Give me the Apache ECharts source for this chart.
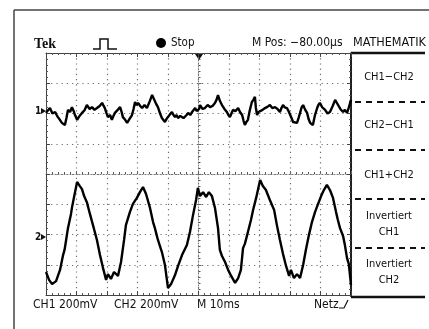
<!DOCTYPE html>
<html>
<head>
<meta charset="utf-8">
<script src="https://cdn.jsdelivr.net/npm/echarts@6/dist/echarts.min.js"></script>
<style>
  html, body { margin: 0; padding: 0; background: #fff; }
  #chart { width: 429px; height: 329px; }
</style>
</head>
<body>
<div id="chart"></div>
<script>
// time in ms relative to trigger (10 ms/div), amplitude in divisions (200 mV/div)
const CH1 = [
  [-50, 2.02], [-49.4, 2.1], [-48.7, 2.18], [-47.9, 2.0], [-47, 2.05], [-46.5, 1.95], [-46.1, 1.88],
  [-45.5, 1.8], [-44.8, 1.69], [-44.3, 1.72], [-43.8, 1.62], [-43.3, 1.85], [-42.8, 2.12], [-42.1, 2.05],
  [-41.5, 2.21], [-41, 2.1], [-40.5, 1.95], [-40.1, 1.9], [-39.8, 1.79], [-39, 1.92], [-38.2, 2.02],
  [-37.4, 2.1], [-36.6, 2.28], [-35.7, 2.15], [-34.9, 2.21], [-34.1, 2.12], [-33.3, 2.18], [-32.4, 2.25],
  [-31.6, 2.35], [-31.1, 2.25], [-30.7, 2.18], [-30.2, 2.02], [-29.7, 1.88], [-29, 1.95], [-28.4, 1.79],
  [-27.9, 1.92], [-27.4, 2.02], [-26.5, 2.12], [-25.7, 2.21], [-25.2, 2.05], [-24.8, 1.88], [-24.1, 1.8],
  [-23.4, 1.69], [-22.6, 1.82], [-21.8, 1.95], [-21.3, 2.15], [-20.8, 2.38], [-20.3, 2.28], [-19.8, 2.35],
  [-19.1, 2.25], [-18.5, 2.18], [-17.7, 2.28], [-16.9, 2.18], [-16, 2.4], [-15.2, 2.61], [-14.7, 2.5],
  [-14.3, 2.45], [-13.8, 2.3], [-13.3, 2.21], [-12.6, 2.0], [-12, 1.85], [-11.5, 1.8], [-11, 1.72],
  [-10.5, 1.82], [-10, 1.88], [-9.3, 1.98], [-8.7, 2.05], [-8.2, 1.95], [-7.7, 1.88], [-7.2, 1.95],
  [-6.7, 1.85], [-6, 1.92], [-5.4, 1.95], [-4.9, 1.85], [-4.4, 1.88], [-3.9, 1.95], [-3.4, 2.02],
  [-2.7, 1.95], [-2.1, 2.05], [-1.6, 2.1], [-1.1, 2.18], [-0.6, 2.08], [-0.2, 2.02], [0.2, 2.15],
  [0.5, 2.28], [1.3, 2.15], [2.1, 2.18], [3, 2.28], [3.8, 2.21], [4.6, 2.25], [5.4, 2.35], [5.9, 2.45],
  [6.4, 2.61], [7, 2.42], [7.7, 2.28], [8.5, 2.15], [9.3, 2.05], [9.8, 1.95], [10.3, 1.88], [10.8, 2.0],
  [11.3, 2.12], [12.1, 2.08], [13, 2.18], [13.6, 2.05], [14.3, 1.95], [14.8, 1.75], [15.2, 1.62],
  [15.7, 1.72], [16.2, 1.79], [16.8, 2.1], [17.5, 2.38], [18, 2.45], [18.5, 2.55], [18.8, 2.2],
  [19.2, 1.95], [19.7, 2.05], [20.2, 2.02], [21, 2.12], [21.8, 2.18], [22.6, 2.22], [23.4, 2.28],
  [24.2, 2.18], [25.1, 2.21], [25.9, 2.15], [26.7, 2.05], [27.2, 2.18], [27.7, 2.28], [28.3, 2.2],
  [29, 2.18], [29.5, 2.08], [30, 2.02], [30.5, 1.85], [31, 1.72], [31.6, 1.78], [32.3, 1.69], [32.8, 1.85],
  [33.3, 2.02], [33.8, 2.2], [34.3, 2.28], [35, 2.12], [35.6, 2.02], [36.1, 1.82], [36.6, 1.69],
  [37, 1.72], [37.5, 1.62], [38.2, 1.95], [38.9, 2.18], [39.3, 2.28], [39.8, 2.35], [40.6, 2.2],
  [41.5, 2.12], [42.3, 2.0], [43.1, 2.05], [44, 2.25], [44.8, 2.45], [45.2, 2.38], [45.7, 2.35],
  [46.5, 2.15], [47.4, 2.05], [48, 2.12], [48.7, 2.02], [49.3, 2.2], [50, 2.45],
];
const CH2 = [
  [-50, -3.24], [-49, -3.5], [-48, -3.64], [-46.7, -3.54], [-45.4, -3.17], [-44.4, -2.68], [-43.9, -2.5],
  [-43.4, -2.18], [-42.8, -1.79], [-41.8, -1.32], [-41.5, -1.12], [-40.8, -0.76], [-39.8, -0.26],
  [-38.9, -0.4], [-38.2, -0.5], [-37.5, -0.73], [-36.6, -0.93], [-35.6, -1.32], [-34.6, -1.69],
  [-33.3, -2.18], [-32.3, -2.68], [-31.3, -3.11], [-30.3, -3.5], [-29.7, -3.31], [-28.7, -3.47],
  [-27.7, -3.24], [-26.4, -3.37], [-25.4, -2.91], [-24.4, -2.18], [-23.8, -1.69], [-22.5, -1.26],
  [-21.5, -0.99], [-20.2, -0.79], [-19.2, -0.6], [-18.2, -0.43], [-17.2, -0.66], [-15.9, -1.12],
  [-14.9, -1.59], [-14.3, -1.79], [-13.3, -2.18], [-12, -2.58], [-11, -3.01], [-10, -3.77], [-9, -3.64],
  [-7.7, -3.34], [-6.7, -3.04], [-5.4, -2.68], [-3.8, -2.35], [-2.8, -1.92], [-1.8, -1.36], [-0.8, -0.86],
  [-0.2, -0.46], [0.5, -0.73], [1.5, -0.6], [2.5, -0.76], [3.4, -0.6], [4.4, -0.73], [5.4, -1.12],
  [6.4, -1.79], [7, -2.51], [7.7, -2.71], [8.7, -2.91], [9.7, -3.17], [10.7, -3.37], [12, -3.6],
  [13, -3.44], [13.9, -3.17], [14.6, -2.45], [15.2, -2.31], [16.2, -1.92], [17.2, -1.52], [17.9, -1.19],
  [18.9, -0.79], [20.2, -0.2], [21.1, -0.4], [22.1, -0.53], [23.4, -0.86], [24.8, -1.19], [25.7, -1.69],
  [26.7, -2.18], [27.7, -2.64], [28.7, -3.04], [29.7, -3.37], [30.3, -3.17], [31.3, -3.44], [32.3, -3.31],
  [33.3, -3.44], [34.3, -3.01], [35.2, -2.51], [36.2, -2.02], [37.2, -1.59], [38.2, -1.26], [39.2, -0.99],
  [40.2, -0.73], [41.1, -0.53], [42.1, -0.36], [43.1, -0.53], [44.1, -0.79], [45.1, -1.26], [45.7, -1.52],
  [46.4, -1.79], [47.4, -2.05], [48, -2.35], [48.7, -2.78], [49.3, -2.98], [50, -3.67],
];
const MENU = ['CH1−CH2', 'CH2−CH1', 'CH1+CH2', 'Invertiert\nCH1', 'Invertiert\nCH2'];
const FOOTER = ['CH1 200mV', 'CH2 200mV', 'M 10ms', 'Netz'];

const INK = '#111';
const FONT = '"Liberation Sans Narrow", "DejaVu Sans Condensed", sans-serif';
const G = { left: 46, top: 53, width: 305, height: 242 };

const chart = echarts.init(document.getElementById('chart'), null, { renderer: 'canvas' });

const dots = { color: '#6e6e6e', type: [1.2, 4], width: 1.2 };
const ruler = (pos, extra) => Object.assign({
  type: 'value', min: pos === 'x' ? -50 : -4, max: pos === 'x' ? 50 : 4, interval: pos === 'x' ? 10 : 1,
  axisLabel: { show: false },
  axisLine: { onZero: false, lineStyle: { color: '#444', width: 1 } },
  axisTick: { show: true, inside: true, length: 4, lineStyle: { color: '#444' } },
  minorTick: { show: true, splitNumber: 5, length: 2, lineStyle: { color: '#555' } },
  splitLine: { show: false },
}, extra);

const text = (x, y, s, o = {}) => ({
  type: 'text', x, y, silent: true,
  style: Object.assign({ text: s, fill: INK, font: `11.5px ${FONT}`, textVerticalAlign: 'middle' }, o),
});
const seg = (x1, y1, x2, y2, o = {}) => ({
  type: 'line', silent: true, shape: { x1, y1, x2, y2 },
  style: Object.assign({ stroke: INK, lineWidth: 1 }, o),
});

const menuY = [77, 125, 175, 224, 272];
const graphics = [
  seg(14, 10, 429, 10, { stroke: '#444', lineWidth: 1.5 }),
  seg(14, 10, 14, 329, { stroke: '#444', lineWidth: 1.5 }),
  text(34, 44, 'Tek', { font: `bold 14px "Liberation Serif", serif` }),
  { type: 'polyline', silent: true, shape: { points: [[93, 49], [100, 49], [100, 39], [108, 39], [108, 49], [117, 49]] },
    style: { stroke: INK, lineWidth: 1.5, fill: null } },
  { type: 'circle', silent: true, shape: { cx: 161, cy: 43, r: 5 }, style: { fill: '#000' } },
  text(171, 43, 'Stop'),
  text(252, 43, 'M Pos: −80.00µs', { font: `12px ${FONT}` }),
  text(353, 43, 'MATHEMATIK', { font: `12.5px ${FONT}` }),
  seg(351, 53, 425, 53, { lineWidth: 2.5 }),
  seg(351, 53, 351, 297, { lineWidth: 1.5 }),
  seg(351, 297, 425, 297, { lineWidth: 2.5 }),
  ...[102, 150, 199, 248].map(y => seg(355, y, 425, y, { lineWidth: 2, lineDash: [6, 5] })),
  ...MENU.map((m, i) => text(389, menuY[i], m, { textAlign: 'center', font: `11px ${FONT}`, lineHeight: 16 })),
  text(35, 111, '1', { font: `bold 10px ${FONT}` }),
  { type: 'polygon', silent: true, shape: { points: [[41, 108], [46, 111], [41, 114]] }, style: { fill: INK } },
  text(35, 237, '2', { font: `bold 10px ${FONT}` }),
  { type: 'polygon', silent: true, shape: { points: [[41, 234], [46, 237], [41, 240]] }, style: { fill: INK } },
  { type: 'polygon', silent: true, shape: { points: [[195, 54], [203, 54], [199, 60]] }, style: { fill: INK } },
  text(33, 305, FOOTER[0], { font: `12px ${FONT}` }),
  text(114, 305, FOOTER[1], { font: `12px ${FONT}` }),
  text(197, 305, FOOTER[2], { font: `12px ${FONT}` }),
  text(314, 305, FOOTER[3], { font: `12px ${FONT}` }),
  { type: 'polyline', silent: true, shape: { points: [[339, 308], [344, 308], [348, 300]] },
    style: { stroke: INK, lineWidth: 1.2, fill: null } },
];

chart.setOption({
  animation: false,
  backgroundColor: '#fff',
  grid: G,
  xAxis: [
    ruler('x', { position: 'bottom', splitLine: { show: true, lineStyle: dots } }),
    ruler('x', { position: 'top' }),
    ruler('x', { position: 'bottom', axisLine: { onZero: true, onZeroAxisIndex: 0, lineStyle: { color: '#777', type: [1, 2] } },
      axisTick: { show: true, inside: true, length: 3, lineStyle: { color: '#666' } } }),
  ],
  yAxis: [
    ruler('y', { position: 'left', splitLine: { show: true, lineStyle: dots } }),
    ruler('y', { position: 'right', axisLine: { onZero: false, lineStyle: { color: INK, width: 1.5 } } }),
    ruler('y', { position: 'left', axisLine: { onZero: true, onZeroAxisIndex: 0, lineStyle: { color: '#777', type: [1, 2] } },
      axisTick: { show: true, inside: true, length: 3, lineStyle: { color: '#666' } } }),
  ],
  series: [
    { name: 'CH1', type: 'line', data: CH1, showSymbol: false, clip: true,
      lineStyle: { color: '#000', width: 2.4 } },
    { name: 'CH2', type: 'line', data: CH2, showSymbol: false, clip: true,
      lineStyle: { color: '#000', width: 2.4 } },
  ],
  graphic: graphics,
});
</script>
</body>
</html>
